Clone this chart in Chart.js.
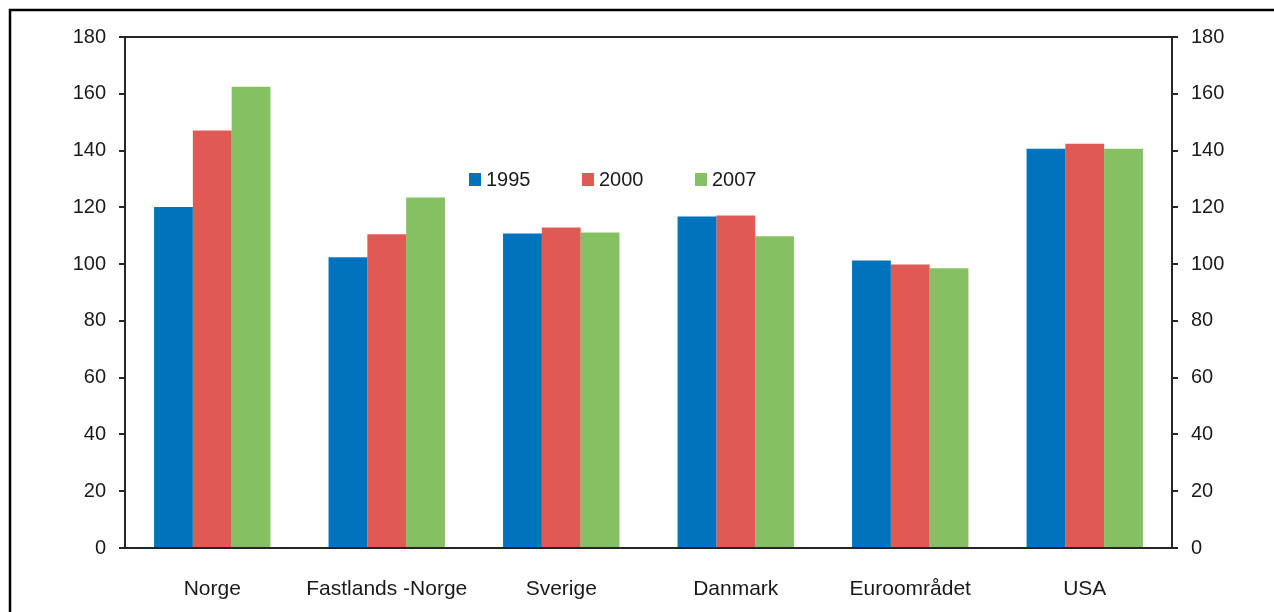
<!DOCTYPE html>
<html><head><meta charset="utf-8">
<script src="https://cdn.jsdelivr.net/npm/chart.js@4/dist/chart.umd.min.js"></script>
<style>html,body{margin:0;padding:0;background:#fff}#wrap{width:1274px;height:612px}</style>
</head><body><div id="wrap"><canvas id="c" width="1274" height="612"></canvas></div>
<script>
const categories = ["Norge", "Fastlands -Norge", "Sverige", "Danmark", "Euroområdet", "USA"];
const series1995 = [120.1, 102.4, 110.8, 116.8, 101.3, 140.6];
const series2000 = [147.1, 110.5, 112.9, 117.1, 99.9, 142.4];
const series2007 = [162.5, 123.5, 111.1, 109.8, 98.5, 140.6];
const seriesLabels = ["1995", "2000", "2007"];
const yTicks = [0, 20, 40, 60, 80, 100, 120, 140, 160, 180];

const colors = ["#0073BD", "#E05A55", "#85C162"];
const axisColor = "#262626";
const FONT = "'Liberation Sans', Arial, sans-serif";

const framePlugin = {
  id: 'frame',
  afterDraw(chart) {
    const ctx = chart.ctx, a = chart.chartArea;
    ctx.save();
    ctx.strokeStyle = '#000'; ctx.lineWidth = 2.5;
    ctx.beginPath();
    ctx.moveTo(10, 640); ctx.lineTo(10, 10); ctx.lineTo(1290, 10);
    ctx.stroke();
    ctx.strokeStyle = axisColor; ctx.lineWidth = 2;
    ctx.beginPath(); ctx.moveTo(a.left, a.top); ctx.lineTo(a.right, a.top); ctx.stroke();
    ctx.font = "20px " + FONT;
    ctx.textBaseline = 'middle';
    const lx = a.left + 344, ly = a.top + 142, gap = 113;
    chart.data.datasets.forEach((ds, i) => {
      const x = lx + i * gap;
      ctx.fillStyle = ds.backgroundColor;
      ctx.fillRect(x, ly - 6, 12, 13);
      ctx.fillStyle = '#1a1a1a';
      ctx.fillText(ds.label, x + 17, ly + 1);
    });
    ctx.restore();
  }
};

const yCommon = (pos, w) => ({
  type: 'linear', position: pos, min: 0, max: 180,
  afterBuildTicks: s => { s.ticks = yTicks.map(v => ({ value: v })); },
  afterFit: s => { s.width = w; },
  grid: { display: true, drawOnChartArea: false, drawTicks: true, tickLength: 6, color: axisColor, lineWidth: 2 },
  border: { display: true, color: axisColor, width: 2 },
  ticks: { color: '#1a1a1a', font: { family: FONT, size: 20 }, padding: 13 }
});

new Chart(document.getElementById('c'), {
  type: 'bar',
  data: {
    labels: categories,
    datasets: [series1995, series2000, series2007].map((d, i) => ({
      label: seriesLabels[i], data: d, backgroundColor: colors[i],
      categoryPercentage: 0.667, barPercentage: 1.0, yAxisID: 'y'
    }))
  },
  options: {
    responsive: false, animation: false,
    layout: { padding: { left: 0, right: 0, top: 37, bottom: 0 } },
    plugins: { legend: { display: false }, tooltip: { enabled: false } },
    scales: {
      x: {
        grid: { display: true, drawOnChartArea: false, drawTicks: false },
        border: { display: true, color: axisColor, width: 2 },
        afterFit: s => { s.height = 64; },
        ticks: { color: '#1a1a1a', font: { family: FONT, size: 21 }, padding: 29, maxRotation: 0, autoSkip: false }
      },
      y: yCommon('left', 125),
      y2: yCommon('right', 102)
    }
  },
  plugins: [framePlugin]
});
</script></body></html>
